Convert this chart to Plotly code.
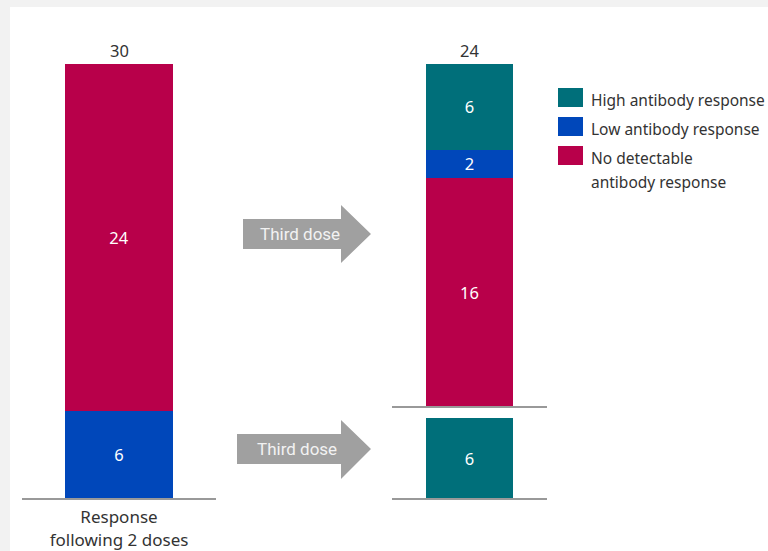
import plotly.graph_objects as go

# ---- data ----
series = ["High antibody response", "Low antibody response", "No detectable antibody response"]
legend_labels = ["High antibody response", "Low antibody response", "No detectable<br>antibody response"]
colors = {"High antibody response": "#006F7A",
          "Low antibody response": "#0047BA",
          "No detectable antibody response": "#B8004A"}

left_category = ["Response<br>following 2 doses"]
left_order = ["Low antibody response", "No detectable antibody response"]
left_values = [6, 24]

top_category = ["After third dose (no response group)"]
top_order = ["No detectable antibody response", "Low antibody response", "High antibody response"]
top_values = [16, 2, 6]

bottom_category = ["After third dose (low response group)"]
bottom_order = ["High antibody response"]
bottom_values = [6]

arrow_label = "Third dose"

W, H = 768, 551
def X(px): return px / W
def Y(py): return 1 - py / H

FONT = "Noto Sans"
FS = 16.5
fig = go.Figure()

def add_stack(cats, order, vals, xa, ya, width, total=True):
    for name, v in zip(order, vals):
        fig.add_trace(go.Bar(
            x=cats, y=[v], name=name, marker=dict(color=colors[name], line=dict(width=0)),
            width=width, text=[str(v)], textposition="inside", insidetextanchor="middle",
            textangle=0, constraintext="none",
            textfont=dict(color="white", size=FS, family=FONT), xaxis=xa, yaxis=ya,
            showlegend=False, hoverinfo="skip"))
    if total:
        fig.add_annotation(x=cats[0], y=sum(vals), xref=xa, yref=ya, text=str(sum(vals)),
                           showarrow=False, yanchor="bottom", yshift=0,
                           font=dict(size=FS, color="#333333", family=FONT))

add_stack(left_category, left_order, left_values, "x", "y", 0.557)
add_stack(top_category, top_order, top_values, "x2", "y2", 0.561)
add_stack(bottom_category, bottom_order, bottom_values, "x3", "y3", 0.561, total=False)

axis_common = dict(showline=True, linecolor="#999999", linewidth=2, showgrid=False,
                   zeroline=False, ticks="", fixedrange=True, type="category", range=[-0.5, 0.5])
fig.update_layout(
    width=W, height=H, margin=dict(l=0, r=0, t=0, b=0),
    paper_bgcolor="#F2F2F2", plot_bgcolor="rgba(0,0,0,0)",
    barmode="stack", showlegend=False,
    font=dict(family=FONT, color="#333333"),
    xaxis=dict(domain=[X(22), X(216)], anchor="y", ticklabelstandoff=3,
               tickfont=dict(size=17, color="#333333", family=FONT), **axis_common),
    yaxis=dict(domain=[Y(498), Y(64)], range=[0, 30], visible=False),
    xaxis2=dict(domain=[X(392), X(547)], anchor="y2", showticklabels=False, **axis_common),
    yaxis2=dict(domain=[Y(406), Y(64)], range=[0, 24], visible=False),
    xaxis3=dict(domain=[X(392), X(547)], anchor="y3", showticklabels=False, **axis_common),
    yaxis3=dict(domain=[Y(498), Y(418)], range=[0, 6], visible=False),
)

# white card background
fig.add_shape(type="rect", xref="paper", yref="paper", x0=X(10), x1=X(768), y0=Y(551), y1=Y(7),
              fillcolor="white", line=dict(width=0), layer="below")

# arrows
def arrow(bx0, by0, by1, hx, hy0, hy1, tip, ty, label):
    pts = [(bx0, by0), (hx, by0), (hx, hy0), (tip, ty), (hx, hy1), (hx, by1), (bx0, by1)]
    path = "M " + " L ".join(f"{X(a):.5f},{Y(b):.5f}" for a, b in pts) + " Z"
    fig.add_shape(type="path", xref="paper", yref="paper", path=path,
                  fillcolor="#A0A0A0", line=dict(width=0))
    fig.add_annotation(x=X((bx0 + hx + 16) / 2), y=Y(ty), xref="paper", yref="paper",
                       text=label, showarrow=False, xanchor="center", yanchor="middle",
                       font=dict(size=17, color="#F2F2F2", family="Roboto"))

arrow(243, 219, 249, 341, 205, 263, 371, 234, arrow_label)
arrow(237, 434, 464, 341, 420, 479, 371, 449, arrow_label)

# legend (manual, large swatches)
leg_rows = [(88, 107), (117, 136), (146, 165)]
for name, lab, (y0, y1) in zip(series, legend_labels, leg_rows):
    fig.add_shape(type="rect", xref="paper", yref="paper", x0=X(558), x1=X(583), y0=Y(y1), y1=Y(y0),
                  fillcolor=colors[name], line=dict(width=0))
    lines = lab.split("<br>")
    for i, ln in enumerate(lines):
        fig.add_annotation(x=X(589), y=Y((y0 + y1) / 2 + 2 + 24 * i), xref="paper", yref="paper",
                           text=ln, showarrow=False, xanchor="left", yanchor="middle",
                           font=dict(size=15.5, color="#333333", family=FONT))

fig.write_html("out.html")
